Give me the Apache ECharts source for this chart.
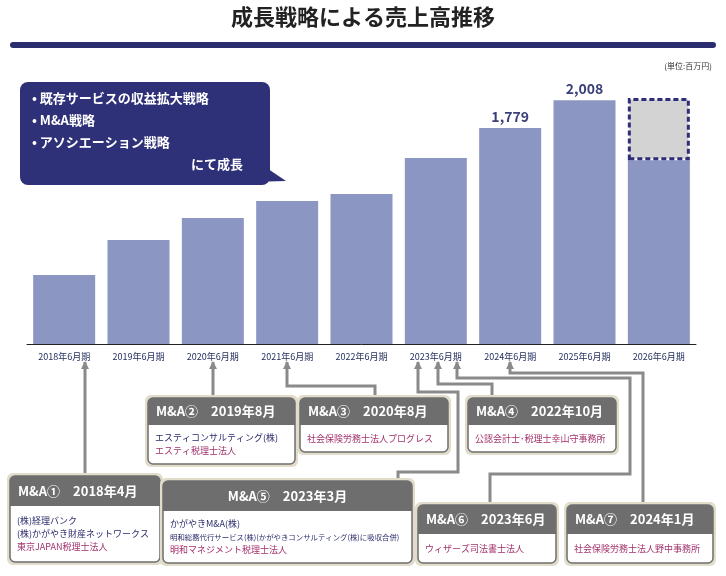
<!DOCTYPE html>
<html>
<head>
<meta charset="utf-8">
<script src="https://cdn.jsdelivr.net/npm/echarts@6/dist/echarts.min.js"></script>
<style>html,body{margin:0;padding:0;background:#fff}#main{width:726px;height:576px}</style>
</head>
<body>
<div id="main"></div>
<script>
// 期
let years = ['2018年6月期', '2019年6月期', '2020年6月期', '2021年6月期', '2022年6月期', '2023年6月期', '2024年6月期', '2025年6月期', '2026年6月期'];
// 売上高(百万円)
let sales = [568, 856, 1037, 1177, 1235, 1531, 1779, 2008, 1514];
// 2026年通期見込みの上乗せ分
let forecastAdd = [null, null, null, null, null, null, null, null, 511];
let shownLabels = { 6: '1,779', 7: '2,008' };

let chart = echarts.init(document.getElementById('main'));
let font = '"Noto Sans CJK JP", sans-serif';
let navy = '#2e3078';
let lineColor = '#8a8a8a';

/**M&Aの箱 */
let maBoxes = [
  { x: 10, y: 476, w: 150, h: 86, hh: 30, title: 'M&A①　2018年4月', lines: [['(株)経理バンク', 0], ['(株)かがやき財産ネットワークス', 0], ['東京JAPAN税理士法人', 1]] },
  { x: 148, y: 398, w: 147, h: 66, hh: 27, title: 'M&A②　2019年8月', lines: [['エスティコンサルティング(株)', 0], ['エスティ税理士法人', 1]] },
  { x: 300, y: 398, w: 148, h: 54, hh: 27, title: 'M&A③　2020年8月', lines: [['社会保険労務士法人プログレス', 1]] },
  { x: 468, y: 398, w: 148, h: 54, hh: 27, title: 'M&A④　2022年10月', lines: [['公認会計士･税理士幸山守事務所', 1]] },
  { x: 163, y: 481, w: 249, h: 82, hh: 30, title: 'M&A⑤　2023年3月', center: true, lines: [['かがやきM&A(株)', 0], ['明和総務代行サービス(株)(かがやきコンサルティング(株)に吸収合併)', 0, 7.4], ['明和マネジメント税理士法人', 1]] },
  { x: 418, y: 505, w: 138, h: 58, hh: 29, title: 'M&A⑥　2023年6月', lines: [['ウィザーズ司法書士法人', 1]] },
  { x: 567, y: 505, w: 146, h: 58, hh: 29, title: 'M&A⑦　2024年1月', lines: [['社会保険労務士法人野中事務所', 1]] }
];
/**接続線 */
let connectors = [
  [[85, 362], [85, 476]],
  [[213, 362], [213, 398]],
  [[287, 362], [287, 386], [375, 386], [375, 398]],
  [[418, 362], [418, 392], [458, 392], [458, 472], [398, 472], [398, 481]],
  [[438, 362], [438, 384], [492, 384], [492, 398]],
  [[457, 362], [457, 378], [630, 378], [630, 474], [490, 474], [490, 505]],
  [[510, 362], [510, 373], [643, 373], [643, 505]]
];

let graphics = [
  { type: 'text', left: 'center', top: 6, style: { text: '成長戦略による売上高推移', font: 'bold 22px ' + font, fill: '#222' } },
  { type: 'rect', shape: { x: 10, y: 42, width: 706, height: 6, r: 3 }, style: { fill: '#2b2d6e' } },
  { type: 'text', right: 14, top: 62, style: { text: '(単位:百万円)', font: '8px ' + font, fill: '#333' } },
  { type: 'polygon', shape: { points: [[240, 150], [286, 181], [250, 182]] }, style: { fill: navy } },
  { type: 'rect', shape: { x: 20, y: 82, width: 250, height: 103, r: 8 }, style: { fill: navy } },
  { type: 'text', x: 32, y: 92, style: { text: '• 既存サービスの収益拡大戦略', font: 'bold 13px ' + font, fill: '#fff' } },
  { type: 'text', x: 32, y: 114, style: { text: '• M&A戦略', font: 'bold 13px ' + font, fill: '#fff' } },
  { type: 'text', x: 32, y: 136, style: { text: '• アソシエーション戦略', font: 'bold 13px ' + font, fill: '#fff' } },
  { type: 'text', x: 243, y: 158, style: { text: 'にて成長', font: 'bold 13px ' + font, fill: '#fff', textAlign: 'right' } },
  { type: 'text', x: 659, y: 238, style: { text: '第3四半期', font: '10px ' + font, fill: navy, textAlign: 'center' } },
  { type: 'text', x: 659, y: 253, style: { text: '1,514', font: 'bold 14px ' + font, fill: navy, textAlign: 'center' } }
];

connectors.forEach(pts => {
  graphics.push({ type: 'polyline', shape: { points: pts }, style: { stroke: lineColor, lineWidth: 3, fill: null } });
  let p = pts[0];
  graphics.push({ type: 'polygon', shape: { points: [[p[0] - 4, p[1] + 7], [p[0] + 4, p[1] + 7], [p[0], p[1] - 1]] }, style: { fill: lineColor } });
});

maBoxes.forEach(b => {
  graphics.push({ type: 'rect', shape: { x: b.x - 3, y: b.y - 3, width: b.w + 6, height: b.h + 6, r: 6 }, style: { fill: '#e2dccb' } });
  graphics.push({ type: 'rect', shape: { x: b.x, y: b.y, width: b.w, height: b.h, r: 5 }, style: { fill: '#fff', stroke: '#6e6e6e', lineWidth: 1.5 } });
  graphics.push({ type: 'rect', shape: { x: b.x, y: b.y, width: b.w, height: b.hh, r: [5, 5, 0, 0] }, style: { fill: '#6e6e6e' } });
  graphics.push({ type: 'text', x: b.center ? b.x + b.w / 2 : b.x + 8, y: b.y + b.hh / 2, style: { text: b.title, font: 'bold 13px ' + font, fill: '#fff', textAlign: b.center ? 'center' : 'left', textVerticalAlign: 'middle' } });
  let bodyH = b.h - b.hh;
  let step = 13;
  let y0 = b.y + b.hh + bodyH / 2 - (b.lines.length - 1) * step / 2;
  b.lines.forEach((l, i) => {
    graphics.push({ type: 'text', x: b.x + 7, y: y0 + i * step, style: { text: l[0], font: (l[2] || 9) + 'px ' + font, fill: l[1] ? '#a2326c' : '#2a2a6a', textVerticalAlign: 'middle' } });
  });
});

let option = {
  animation: false,
  grid: { left: 27, right: 30, top: 89, bottom: 232 },
  xAxis: {
    type: 'category', data: years,
    axisLine: { lineStyle: { color: '#222', width: 1 } },
    axisTick: { show: false },
    axisLabel: { fontSize: 9, color: '#1e2a5a', fontFamily: font, margin: 8 }
  },
  yAxis: { type: 'value', min: 0, max: 2100, show: false, splitLine: { show: false } },
  series: [
    {
      type: 'bar', stack: 's', data: sales, barWidth: 62,
      itemStyle: { color: '#8c96c2' },
      label: {
        show: true, position: 'top', distance: 4, fontSize: 14, fontWeight: 'bold', color: '#3a3f7a', fontFamily: font,
        formatter: p => shownLabels[p.dataIndex] || ''
      }
    },
    {
      type: 'bar', stack: 's', data: forecastAdd, barWidth: 62,
      itemStyle: { color: '#d3d3d3', borderColor: '#2e2e7a', borderWidth: 3, borderType: [5, 3] }
    }
  ],
  graphic: graphics
};
chart.setOption(option);
</script>
</body>
</html>
